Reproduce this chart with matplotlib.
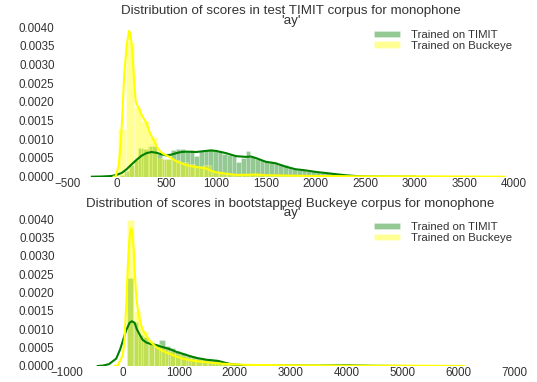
import numpy as np
import matplotlib
matplotlib.use("Agg")
import matplotlib.pyplot as plt

plt.rcParams['font.family'] = ['Liberation Sans', 'DejaVu Sans']

# ---------------- data ----------------
title_top = "Distribution of scores in test TIMIT corpus for monophone\n'ay'"
title_bot = "Distribution of scores in bootstapped Buckeye corpus for monophone\n'ay'"
labels = ["Trained on TIMIT", "Trained on Buckeye"]

# Top panel: TIMIT-trained histogram (density), bin start / width
top_timit_start = 30
top_timit_width = 47
top_timit_heights = [
    0.00005, 0.00015, 0.0003, 0.00045, 0.00078, 0.00075, 0.00083, 0.00082, 0.0006, 0.00048,
    0.00048, 0.00072, 0.00075, 0.00074, 0.00068, 0.00072, 0.00055, 0.00068, 0.00072, 0.00073,
    0.0007, 0.00068, 0.00062, 0.00058, 0.00055, 0.0004, 0.0005, 0.0007, 0.00052, 0.00048,
    0.00045, 0.00042, 0.0004, 0.00036, 0.00033, 0.0003, 0.00025, 0.0002, 0.00018, 0.00017,
    0.00016, 0.00014, 0.00012, 0.0001, 0.00009, 0.0001, 0.00006, 0.00004, 0.00003, 0.00002]

# Top panel: Buckeye-trained histogram
top_buck_start = 15
top_buck_width = 77.7
top_buck_heights = [
    0.00128, 0.0036, 0.00186, 0.0015, 0.00107, 0.0005, 0.00048, 0.00045, 0.0004, 0.00033,
    0.00028, 0.0003, 0.00012, 0.0001, 0.00006, 0.00004, 0.00005, 0.00007, 0.00005, 0.00003,
    0.00003, 0.00002, 0.00002, 0.00001, 0.00002, 0.00001, 0.00001, 0.00001, 0.0, 0.00001,
    0.0, 0.00001, 0.0, 0.0, 0.00001, 0.0, 0.0, 0.0, 0.00001, 0.0,
    0.0, 0.0, 0.0, 0.0, 0.0, 0.0, 0.0, 0.0, 0.0, 0.00001]

# Top panel KDE curves
top_timit_kde_x = [-250, -150, -50, 0, 50, 100, 150, 200, 250, 300, 350, 400, 450, 500, 550, 600,
                   650, 700, 800, 900, 950, 1000, 1100, 1200, 1300, 1350, 1400, 1500, 1600, 1700,
                   1800, 1900, 2000, 2100, 2200, 2300, 2400, 2500, 2700, 3000]
top_timit_kde_y = [0.0, 0.000005, 0.00002, 0.00005, 0.0001, 0.0002, 0.00033, 0.00045, 0.00056, 0.00063,
                   0.00066, 0.00064, 0.0006, 0.00057, 0.00059, 0.00063, 0.00066, 0.00067, 0.00066, 0.00069,
                   0.0007, 0.00069, 0.00063, 0.00055, 0.00053, 0.00054, 0.0005, 0.0004, 0.00036, 0.00027,
                   0.0002, 0.00017, 0.00013, 0.0001, 0.00007, 0.00004, 0.00002, 0.000005, 0.000002, 0.0]

top_buck_kde_x = [-30, -10, 20, 41, 60, 75, 100, 125, 140, 158, 175, 192, 226, 260, 293, 330, 360,
                  400, 427, 460, 494, 550, 595, 650, 700, 750, 830, 900, 950, 1000, 1100, 1200, 1300,
                  1400, 1500, 1700, 2000, 2500, 3000, 3500, 3900]
top_buck_kde_y = [0.0, 0.00001, 0.0003, 0.0009, 0.0018, 0.0027, 0.0035, 0.0039, 0.0038, 0.0033,
                  0.0026, 0.002, 0.0018, 0.0016, 0.00147, 0.0012, 0.00103, 0.00082, 0.00071, 0.00063,
                  0.00058, 0.0005, 0.00042, 0.00036, 0.00031, 0.00028, 0.00025, 0.00022, 0.00016, 0.00012,
                  0.00008, 0.00005, 0.00005, 0.00006, 0.00004, 0.00003, 0.00002, 0.00001, 0.00001, 0.000005, 0.0]

# Bottom panel histograms
bot_timit_start = 80
bot_timit_width = 95
bot_timit_heights = [
    0.0024, 0.0012, 0.00085, 0.00078, 0.00062, 0.0006, 0.0007, 0.00055, 0.0005, 0.0004,
    0.00036, 0.0003, 0.00027, 0.00022, 0.0002, 0.00018, 0.00016, 0.00014, 0.0001, 0.00006,
    0.00004, 0.00003, 0.00002, 0.00002, 0.00001, 0.00001, 0.00001, 0.00001, 0.00001, 0.00001,
    0.00001, 0.00001, 0.00001, 0.00001, 0.00001, 0.00002, 0.00002, 0.00002, 0.00001, 0.00001,
    0.00001, 0.0, 0.0, 0.0, 0.0, 0.0, 0.0, 0.0, 0.0, 0.00001]

bot_buck_start = 80
bot_buck_width = 121
bot_buck_heights = [
    0.00398, 0.0015, 0.00095, 0.00072, 0.0006, 0.0005, 0.0004, 0.00033, 0.00028, 0.00022,
    0.00018, 0.00015, 0.00012, 0.0001, 0.00009, 0.00007, 0.00006, 0.00005, 0.00004, 0.00003,
    0.00002, 0.00002, 0.00002, 0.00001, 0.00001, 0.00001, 0.00001, 0.00001, 0.00001, 0.00001,
    0.00001, 0.00001, 0.0, 0.00001, 0.0, 0.00001, 0.0, 0.0, 0.00001, 0.0,
    0.0, 0.0, 0.00001, 0.0, 0.0, 0.0, 0.0, 0.0, 0.0, 0.00001]

bot_timit_kde_x = [-450, -359, -250, -120, -50, 0, 60, 120, 160, 209, 250, 299, 350, 419, 500, 598,
                   700, 838, 950, 1077, 1200, 1316, 1500, 1700, 1800, 1900, 2000, 2200, 2600, 3000,
                   3500, 4000, 4500, 5000]
bot_timit_kde_y = [0.0, 0.00001, 0.00005, 0.0002, 0.00045, 0.00069, 0.00098, 0.00118, 0.00122, 0.00118,
                   0.001, 0.00086, 0.00072, 0.00064, 0.0006, 0.00057, 0.00052, 0.00046, 0.00039, 0.00033,
                   0.00027, 0.00022, 0.00017, 0.00014, 0.0001, 0.00006, 0.00004, 0.00002, 0.00001, 0.000015,
                   0.00001, 0.00002, 0.000005, 0.0]

bot_buck_kde_x = [-150, -90, 0, 30, 60, 90, 120, 149, 170, 191, 215, 239, 270, 299, 350, 419, 500,
                  598, 700, 838, 950, 1077, 1200, 1316, 1500, 1800, 2200, 3000, 4000, 5000, 6100]
bot_buck_kde_y = [0.0, 0.00002, 0.0003, 0.00073, 0.0017, 0.00278, 0.0035, 0.00376, 0.0036, 0.00322,
                  0.0025, 0.00189, 0.0015, 0.00126, 0.001, 0.00082, 0.00065, 0.00051, 0.00042, 0.00033,
                  0.00026, 0.0002, 0.00016, 0.00013, 0.0001, 0.00006, 0.00003, 0.00002, 0.00001, 0.00001, 0.0]

top_xticks = [-500, 0, 500, 1000, 1500, 2000, 2500, 3000, 3500, 4000]
bot_xticks = [-1000, 0, 1000, 2000, 3000, 4000, 5000, 6000, 7000]
yticks = [0.0, 0.0005, 0.0010, 0.0015, 0.0020, 0.0025, 0.0030, 0.0035, 0.0040]

# ---------------- drawing ----------------
fig = plt.figure(figsize=(5.37, 3.82), dpi=100)
ax1 = fig.add_axes([0.1248, 0.5374, 0.8324, 0.3919])
ax2 = fig.add_axes([0.1248, 0.0419, 0.8324, 0.3840])

TXT = '#333333'


def draw_hist(ax, start, width, heights, color, label):
    lefts = start + width * np.arange(len(heights))
    ax.bar(lefts, heights, width=width, align='edge', color=color, alpha=0.42,
           edgecolor='white', linewidth=0.4, label=label)


def panel(ax, title, tstart, twidth, th, bstart, bwidth, bh, tkx, tky, bkx, bky, xticks):
    draw_hist(ax, tstart, twidth, th, 'green', labels[0])
    ax.plot(tkx, tky, color='green', lw=1.5)
    draw_hist(ax, bstart, bwidth, bh, 'yellow', labels[1])
    ax.plot(bkx, bky, color='yellow', lw=1.5)
    ax.set_xlim(xticks[0], xticks[-1])
    ax.set_ylim(0, 0.0040)
    ax.set_xticks(xticks)
    ax.set_xticklabels([str(t).replace('-', '\u2212') for t in xticks])
    ax.set_yticks(yticks)
    ax.set_yticklabels(["%.4f" % v for v in yticks])
    ax.tick_params(length=0, labelsize=8.4, colors=TXT, pad=1)
    ax.tick_params(axis='y', pad=9)
    for s in ax.spines.values():
        s.set_visible(False)
    ax.set_title(title, fontsize=9.6, color=TXT, linespacing=0.75, pad=-5)
    leg = ax.legend(loc='upper right', bbox_to_anchor=(1.0, 0.995), frameon=False, fontsize=8.2,
                    handlelength=2.3, handleheight=0.45, handletextpad=0.95, labelspacing=0.05,
                    borderaxespad=0.0, borderpad=0.2)
    for t in leg.get_texts():
        t.set_color(TXT)


panel(ax1, title_top, top_timit_start, top_timit_width, top_timit_heights,
      top_buck_start, top_buck_width, top_buck_heights,
      top_timit_kde_x, top_timit_kde_y, top_buck_kde_x, top_buck_kde_y, top_xticks)
panel(ax2, title_bot, bot_timit_start, bot_timit_width, bot_timit_heights,
      bot_buck_start, bot_buck_width, bot_buck_heights,
      bot_timit_kde_x, bot_timit_kde_y, bot_buck_kde_x, bot_buck_kde_y, bot_xticks)

fig.savefig("out.png", dpi=100, facecolor='white')
